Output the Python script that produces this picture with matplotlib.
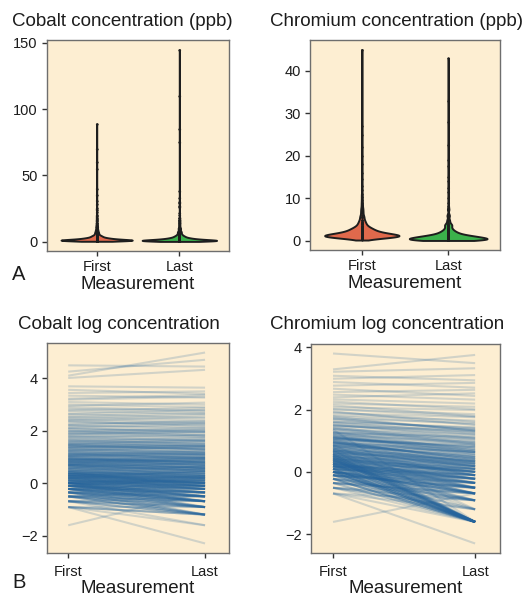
import numpy as np
import matplotlib
matplotlib.use("Agg")
import matplotlib.pyplot as plt

plt.rcParams['font.family'] = ['Liberation Sans', 'DejaVu Sans']

# ---------------- data (ppb) ----------------
categories = ["First", "Last"]

cobalt_first = [
    0.2, 0.4, 0.4, 0.4, 0.4, 0.4, 0.4, 0.5, 0.5, 0.5,
    0.5, 0.5, 0.5, 0.5, 0.5, 0.6, 0.6, 0.6, 0.6, 0.6,
    0.6, 0.6, 0.6, 0.6, 0.6, 0.7, 0.7, 0.7, 0.7, 0.7,
    0.7, 0.7, 0.7, 0.7, 0.7, 0.8, 0.8, 0.8, 0.8, 0.8,
    0.8, 0.8, 0.8, 0.8, 0.8, 0.8, 0.8, 0.9, 0.9, 0.9,
    0.9, 0.9, 0.9, 0.9, 0.9, 0.9, 0.9, 0.9, 0.9, 1.0,
    1.0, 1.0, 1.0, 1.0, 1.0, 1.0, 1.0, 1.0, 1.0, 1.0,
    1.0, 1.0, 1.0, 1.1, 1.1, 1.1, 1.1, 1.1, 1.1, 1.1,
    1.2, 1.2, 1.2, 1.2, 1.2, 1.2, 1.3, 1.3, 1.3, 1.3,
    1.3, 1.3, 1.3, 1.4, 1.4, 1.4, 1.4, 1.4, 1.5, 1.5,
    1.5, 1.5, 1.5, 1.2, 1.3, 1.4, 1.5, 1.1, 1.2, 1.4,
    1.6, 1.6, 1.7, 1.7, 1.8, 1.8, 1.9, 1.9, 2.0, 2.0,
    2.0, 2.1, 2.1, 2.2, 2.2, 2.3, 2.3, 2.4, 2.5, 2.5,
    1.6, 1.7, 1.8, 1.9, 2.0, 2.1, 2.2, 2.3, 2.4, 2.5,
    2.6, 2.7, 2.8, 2.9, 3.0, 3.1, 3.2, 3.4, 3.5, 3.6,
    3.7, 3.8, 3.9, 4.0, 4.1, 4.2, 4.3, 4.4, 4.5, 2.8,
    3.0, 3.3, 3.6, 4.0, 4.4, 4.7, 4.9, 5.1, 5.4, 5.7,
    6.0, 6.3, 6.6, 6.9, 7.2, 5.0, 5.5, 6.1, 6.8, 7.4,
    7.8, 8.3, 8.9, 9.5, 10.2, 10.9, 11.6, 8.0, 9.0, 11.0,
    12.5, 14.0, 15.5, 17.0, 19.0, 22.0, 25.0, 28.0, 31.0, 40.0,
    13.0, 18.0, 24.0, 35.0, 55.0, 70.0, 89.0, 60.0, 20.0, 16.0,
    0.5, 0.6, 0.7, 0.8, 0.9, 1.0, 1.1, 1.2, 1.3, 1.4,
    1.5, 1.6, 1.7, 1.8, 1.9, 2.0, 2.2, 2.4, 2.6, 2.8,
    0.6, 0.7, 0.8, 0.9, 1.0, 1.1, 1.2, 1.3, 1.4, 1.5,
    1.0, 1.1, 1.2, 1.3, 1.4, 1.6, 1.8, 2.0, 2.3, 2.7,
    0.7, 0.8, 0.9, 1.0, 1.2, 1.4, 1.7, 2.1, 2.5, 3.0,
    0.9, 1.0, 1.1, 1.3, 1.5, 1.9, 0.8, 1.2, 1.6, 3.3,
    2.0, 2.2, 2.4, 2.6, 2.9, 3.2, 3.5, 3.9, 4.3, 4.8,
    2.1, 2.3, 2.5, 2.8, 3.1, 3.4, 3.8, 4.2, 4.6, 5.2,
    5.8, 6.5, 7.3, 8.2, 9.2, 10.5, 12.0, 14.0, 2.7, 3.0,
]
cobalt_last = [
    0.7, 0.1, 0.3, 0.3, 0.2, 0.4, 0.3, 0.3, 0.4, 0.2,
    0.3, 0.4, 0.5, 0.3, 0.6, 0.4, 0.3, 0.5, 0.6, 0.4,
    0.3, 0.7, 0.5, 0.4, 0.8, 0.5, 0.4, 0.6, 0.3, 0.7,
    0.5, 0.9, 0.4, 0.6, 0.5, 0.6, 0.5, 0.4, 0.7, 0.9,
    0.5, 0.6, 0.8, 0.3, 1.0, 0.7, 0.5, 0.6, 0.8, 0.5,
    0.7, 1.1, 0.4, 0.9, 0.6, 0.7, 1.2, 0.5, 0.8, 0.7,
    0.8, 0.6, 1.0, 0.9, 1.3, 0.5, 0.7, 1.1, 0.8, 0.4,
    0.9, 0.6, 1.2, 0.8, 1.0, 0.7, 1.3, 0.9, 0.6, 1.1,
    0.9, 1.1, 0.7, 1.4, 1.0, 0.8, 1.2, 0.9, 1.5, 1.0,
    0.8, 1.1, 1.6, 1.2, 0.9, 1.3, 1.7, 1.0, 1.1, 1.4,
    1.0, 1.8, 1.2, 1.3, 1.0, 1.1, 0.9, 1.0, 1.6, 1.5,
    1.4, 1.9, 1.5, 1.2, 1.7, 2.2, 1.6, 1.3, 1.8, 2.4,
    1.6, 2.0, 1.7, 2.6, 1.9, 2.1, 1.8, 2.9, 2.2, 1.9,
    1.3, 1.9, 1.4, 2.1, 1.5, 2.4, 1.8, 2.0, 2.7, 2.3,
    2.2, 3.1, 2.4, 2.6, 3.5, 2.7, 2.9, 3.0, 4.1, 3.2,
    3.3, 4.4, 3.5, 3.6, 4.8, 3.7, 3.9, 5.2, 4.0, 2.5,
    2.7, 3.0, 3.2, 3.8, 4.1, 4.2, 5.6, 4.6, 5.0, 6.3,
    5.4, 7.0, 5.9, 6.2, 8.1, 4.5, 5.1, 5.8, 7.6, 6.6,
    7.1, 9.4, 8.0, 10.6, 9.3, 12.5, 10.4, 7.5, 8.4, 9.8,
    11.2, 16.3, 13.9, 15.2, 21.5, 19.8, 29.0, 26.0, 33.0, 38.0,
    14.5, 16.0, 27.0, 30.0, 75.0, 110.0, 85.0, 145.0, 18.0, 17.5,
    0.4, 0.3, 0.6, 0.5, 0.7, 0.8, 0.9, 1.0, 1.1, 1.2,
    1.3, 1.2, 1.5, 1.4, 1.6, 1.7, 1.8, 2.1, 2.0, 2.4,
    0.5, 0.4, 0.7, 0.6, 0.9, 0.8, 1.0, 1.1, 1.2, 1.3,
    0.6, 0.9, 0.8, 1.2, 1.0, 1.3, 1.5, 1.6, 2.0, 2.2,
    0.3, 0.5, 0.6, 0.8, 0.9, 1.1, 1.4, 1.8, 2.2, 2.6,
    0.7, 0.5, 0.9, 1.0, 1.2, 1.6, 0.4, 1.0, 1.3, 2.9,
    1.8, 2.5, 2.0, 2.2, 3.3, 2.8, 3.0, 4.2, 3.6, 4.1,
    1.7, 2.6, 2.2, 3.1, 2.5, 3.9, 3.2, 3.6, 5.0, 4.4,
    5.0, 7.2, 6.1, 7.0, 10.0, 8.8, 13.5, 12.0, 2.3, 2.6,
]

chromium_first = [
    0.2, 0.5, 0.5, 0.5, 0.6, 0.6, 0.6, 0.6, 0.7, 0.7,
    0.7, 0.7, 0.7, 0.8, 0.8, 0.8, 0.8, 0.8, 0.9, 0.9,
    0.9, 0.9, 0.9, 0.9, 1.0, 1.0, 1.0, 1.0, 1.0, 1.0,
    1.0, 1.0, 1.0, 1.1, 1.1, 1.1, 1.1, 1.1, 1.1, 1.1,
    1.2, 1.2, 1.2, 1.2, 1.2, 1.2, 1.2, 1.3, 1.3, 1.3,
    1.3, 1.3, 1.3, 1.3, 1.3, 1.4, 1.4, 1.4, 1.4, 1.4,
    1.4, 1.4, 1.5, 1.5, 1.5, 1.5, 1.5, 1.5, 1.6, 1.6,
    1.6, 1.6, 1.6, 1.7, 1.7, 1.7, 1.7, 1.8, 1.8, 1.8,
    1.8, 1.9, 1.9, 1.9, 2.0, 2.0, 2.0, 2.0, 2.1, 2.1,
    2.2, 2.2, 2.3, 2.3, 2.4, 2.4, 2.5, 2.5, 2.6, 2.6,
    2.7, 2.8, 2.9, 3.0, 3.1, 3.2, 3.3, 2.7, 2.9, 3.1,
    3.4, 3.5, 3.6, 3.8, 4.0, 4.2, 4.4, 4.6, 4.8, 5.0,
    5.3, 5.6, 5.9, 6.2, 6.6, 7.0, 7.5, 8.0, 8.5, 9.0,
    9.6, 10.3, 11.0, 12.0, 13.0, 14.5, 16.0, 18.0, 20.0, 22.0,
    25.0, 27.0, 45.0, 0.5, 0.6, 0.9, 1.2, 1.7, 2.4, 3.9,
    0.8, 1.0, 1.1, 1.3, 1.5, 1.6, 1.8, 2.0, 2.2, 1.4,
    0.9, 1.0, 1.1, 1.2, 1.3, 1.5, 1.7, 1.9, 2.1, 1.2,
    2.3, 2.6, 2.8, 3.0, 3.3, 3.6, 4.1, 4.5, 5.5, 6.8,
    0.6, 0.7, 0.8, 0.9, 1.0, 1.1, 1.2, 1.3, 1.4, 1.5,
    1.6, 1.7, 1.8, 1.9, 2.0, 2.2, 2.4, 2.6, 2.8, 3.0,
    0.7, 0.8, 0.9, 1.0, 1.1, 1.2, 1.3, 1.4, 1.5, 1.6,
    1.0, 1.2, 1.4, 1.6, 1.8, 2.0, 2.3, 2.6, 3.0, 3.4,
    0.8, 0.9, 1.0, 1.1, 1.2, 1.3, 1.5, 1.7, 1.9, 2.1,
    1.1, 1.3, 1.5, 1.7, 0.9, 1.2, 1.4, 1.8, 2.5, 1.0,
    2.0, 2.3, 2.6, 2.9, 3.2, 3.6, 4.0, 4.5, 5.0, 5.6,
    2.2, 2.5, 2.8, 3.1, 3.5, 3.9, 4.3, 4.9, 6.0, 7.5,
]
chromium_last = [
    0.5, 0.4, 0.2, 0.3, 0.4, 0.2, 0.5, 0.3, 0.4, 0.2,
    0.5, 0.6, 0.2, 0.4, 0.2, 0.5, 0.6, 0.2, 0.4, 0.2,
    0.5, 0.7, 0.2, 0.6, 0.4, 0.2, 0.6, 0.5, 0.2, 0.8,
    0.7, 0.2, 0.5, 0.6, 0.2, 0.8, 0.4, 0.7, 0.2, 0.9,
    0.8, 0.5, 0.2, 0.9, 0.7, 1.0, 0.6, 0.4, 0.8, 0.2,
    0.7, 1.1, 0.6, 0.9, 0.5, 0.8, 0.2, 1.0, 0.6, 0.7,
    1.2, 0.5, 0.9, 0.2, 0.8, 1.1, 0.6, 1.3, 0.7, 1.0,
    0.2, 0.9, 1.4, 0.8, 1.2, 0.6, 1.0, 0.9, 0.2, 1.5,
    1.1, 0.7, 1.3, 1.0, 0.2, 1.2, 0.9, 1.6, 1.1, 0.8,
    1.4, 0.9, 1.7, 1.2, 1.0, 1.9, 1.3, 2.1, 1.5, 1.1,
    1.8, 1.4, 2.3, 1.6, 2.0, 2.6, 1.9, 1.2, 2.2, 1.7,
    2.4, 3.1, 2.0, 2.8, 3.3, 2.5, 3.9, 3.0, 3.6, 4.2,
    4.0, 4.8, 3.7, 5.2, 5.8, 4.5, 6.4, 7.3, 6.0, 8.1,
    7.5, 9.0, 12.5, 10.2, 14.0, 11.5, 17.5, 15.0, 22.5, 19.0,
    28.0, 43.0, 33.0, 0.1, 0.3, 0.3, 0.2, 0.2, 0.3, 0.2,
    0.2, 0.2, 0.2, 0.2, 0.2, 0.2, 0.2, 0.2, 0.2, 0.3,
    0.6, 0.7, 0.9, 1.1, 0.8, 1.0, 1.2, 1.4, 1.3, 0.5,
    1.5, 1.8, 1.3, 2.4, 2.1, 2.7, 2.9, 3.4, 3.8, 5.0,
    0.4, 0.5, 0.2, 0.6, 0.5, 0.7, 0.6, 0.9, 0.8, 0.2,
    1.0, 1.1, 0.9, 1.2, 1.3, 1.4, 1.6, 1.5, 1.9, 2.0,
    0.5, 0.4, 0.7, 0.2, 0.8, 0.9, 0.7, 1.0, 1.1, 0.2,
    0.6, 0.8, 1.0, 1.1, 1.3, 1.4, 1.7, 1.9, 2.2, 2.5,
    0.4, 0.6, 0.5, 0.2, 0.7, 0.8, 1.0, 0.2, 1.2, 1.4,
    0.2, 0.2, 0.2, 0.2, 0.3, 0.4, 0.5, 0.6, 1.6, 0.5,
    1.2, 1.9, 1.5, 2.2, 1.8, 2.9, 2.4, 3.3, 4.1, 3.8,
    1.4, 1.6, 2.3, 1.9, 2.6, 3.0, 3.7, 3.5, 4.6, 5.9,
]

conc_titles = ["Cobalt concentration (ppb)", "Chromium concentration (ppb)"]
log_titles = ["Cobalt log concentration", "Chromium log concentration"]
conc_yticks = [[0, 50, 100, 150], [0, 10, 20, 30, 40]]
log_yticks = [[-2, 0, 2, 4], [-2, 0, 2, 4]]
panel_letters = ["A", "B"]

# ---------------- styling ----------------
W, H = 525, 598
BG = "#FDEED2"
SPINE = "#6e6e6e"
TXT = "#1c1c1c"
VIOLIN_COLORS = ["#E0694C", "#3BB14B"]
LINE_COLOR = "#25649C"

fig = plt.figure(figsize=(W / 100, H / 100), dpi=100)


def px_axes(x0, y0, x1, y1):
    return fig.add_axes([x0 / W, 1 - y1 / H, (x1 - x0) / W, (y1 - y0) / H])


def style(ax, yticks, xpad, labelpad):
    ax.set_facecolor(BG)
    for s in ax.spines.values():
        s.set_color(SPINE)
        s.set_linewidth(1.0)
    ax.tick_params(direction='out', length=3.6, width=1.0, color='#333333',
                   labelsize=10.5, labelcolor=TXT, pad=3)
    ax.tick_params(axis='x', pad=xpad)
    ax.set_yticks(yticks)
    ax.set_yticklabels([str(t).replace('-', '\u2212') for t in yticks])
    ax.set_xticks([1, 2])
    ax.set_xticklabels(categories)
    ax.set_xlabel("Measurement", fontsize=13.5, color=TXT, labelpad=labelpad)


def nrd0(v):
    q75, q25 = np.percentile(v, [75, 25])
    s = min(np.std(v, ddof=1), (q75 - q25) / 1.34)
    return 0.9 * s * len(v) ** -0.2


def draw_violins(ax, groups):
    for i, vals in enumerate(groups):
        v = np.asarray(vals, dtype=float)
        factor = nrd0(v) / np.std(v, ddof=1)
        parts = ax.violinplot([v], positions=[i + 1], widths=[0.86, 0.9][i],
                              showextrema=False, points=2000, bw_method=factor)
        for b in parts['bodies']:
            b.set_facecolor(VIOLIN_COLORS[i])
            b.set_edgecolor('#1e1e1e')
            b.set_linewidth(1.4)
            b.set_alpha(1)
            b.set_zorder(2)
        ax.scatter(np.full(len(v), i + 1.0), v, s=2.5, color='#1e1e1e',
                   linewidths=0, zorder=3)
    ax.set_xlim(0.4, 2.6)


def draw_lines(ax, first, last):
    lf = np.log(np.asarray(first, dtype=float))
    ll = np.log(np.asarray(last, dtype=float))
    for a, b in zip(lf, ll):
        ax.plot([1, 2], [a, b], color=LINE_COLOR, alpha=0.2, lw=1.5,
                solid_capstyle='butt')
    ax.set_xlim(0.845, 2.175)


# Row A: violins
axA1 = px_axes(47, 40, 229, 251)
draw_violins(axA1, [cobalt_first, cobalt_last])
style(axA1, conc_yticks[0], 3, 1)
axA2 = px_axes(310, 40, 500, 250)
draw_violins(axA2, [chromium_first, chromium_last])
style(axA2, conc_yticks[1], 3, 1)

# Row B: paired log lines
axB1 = px_axes(47, 343, 229, 553)
draw_lines(axB1, cobalt_first, cobalt_last)
style(axB1, log_yticks[0], 5, 0.5)
axB2 = px_axes(311, 344, 500, 553)
draw_lines(axB2, chromium_first, chromium_last)
style(axB2, log_yticks[1], 5, 0.5)

# titles
fig.text(12 / W, 1 - 25.5 / H, conc_titles[0], fontsize=13.5, color=TXT, va='baseline', ha='left')
fig.text(270 / W, 1 - 26.5 / H, conc_titles[1], fontsize=13.5, color=TXT, va='baseline', ha='left')
fig.text(18 / W, 1 - 329 / H, log_titles[0], fontsize=13.5, color=TXT, va='baseline', ha='left')
fig.text(270 / W, 1 - 329 / H, log_titles[1], fontsize=13.5, color=TXT, va='baseline', ha='left')

# panel letters
fig.text(12 / W, 1 - 280 / H, panel_letters[0], fontsize=14.5, color=TXT, va='baseline', ha='left')
fig.text(12 / W, 1 - 588 / H, panel_letters[1], fontsize=14.5, color=TXT, va='baseline', ha='left')

fig.savefig("out.png", dpi=100, facecolor='white')
